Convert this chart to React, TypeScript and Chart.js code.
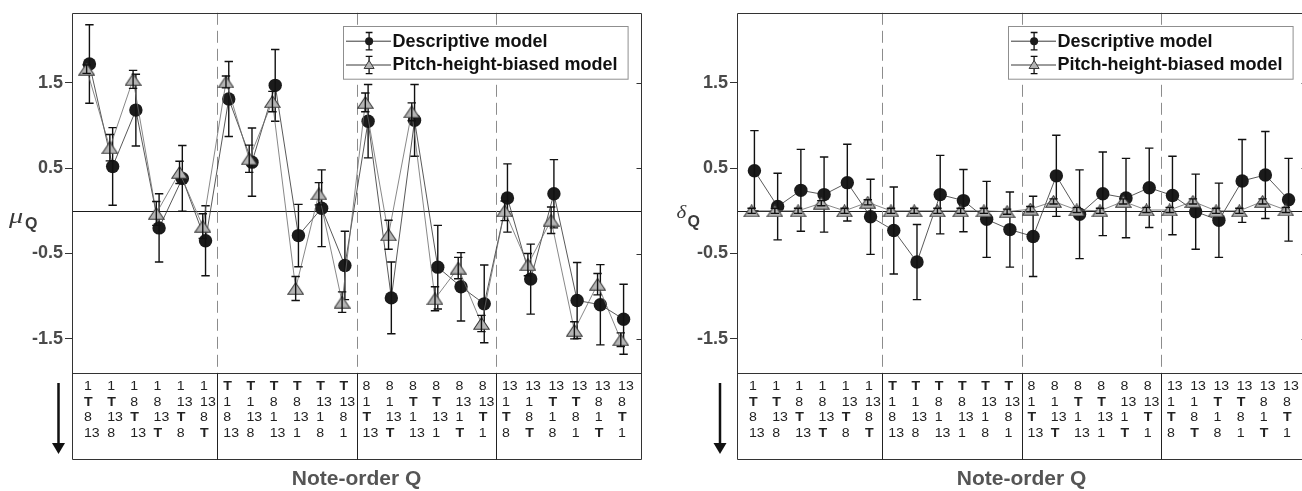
import React, { useEffect, useRef } from "react";
import { Chart, registerables } from "chart.js";
Chart.register(...registerables);

// ---------- data ----------
const notePositions = [1, 2, 3, 4, 5, 6, 7, 8, 9, 10, 11, 12, 13, 14, 15, 16, 17, 18, 19, 20, 21, 22, 23, 24];
const groupBreaks = [6.5, 12.5, 18.5];
const yTickValues = [-1.5, -0.5, 0.5, 1.5];
const seriesLabels = ["Descriptive model", "Pitch-height-biased model"];
const xTitle = "Note-order Q";

const orderRow1 = ["1", "1", "1", "1", "1", "1", "T", "T", "T", "T", "T", "T", "8", "8", "8", "8", "8", "8", "13", "13", "13", "13", "13", "13"];
const orderRow2 = ["T", "T", "8", "8", "13", "13", "1", "1", "8", "8", "13", "13", "1", "1", "T", "T", "13", "13", "1", "1", "T", "T", "8", "8"];
const orderRow3 = ["8", "13", "T", "13", "T", "8", "8", "13", "1", "13", "1", "8", "T", "13", "1", "13", "1", "T", "T", "8", "1", "8", "1", "T"];
const orderRow4 = ["13", "8", "13", "T", "8", "T", "13", "8", "13", "1", "8", "1", "13", "T", "13", "1", "T", "1", "8", "T", "8", "1", "T", "1"];

const muDescriptive = [1.72, 0.52, 1.18, -0.2, 0.38, -0.35, 1.31, 0.57, 1.47, -0.29, 0.03, -0.64, 1.05, -1.02, 1.06, -0.66, -0.89, -1.09, 0.15, -0.8, 0.2, -1.05, -1.1, -1.27];
const muDescriptiveErr = [0.46, 0.455, 0.42, 0.4, 0.385, 0.41, 0.44, 0.4, 0.42, 0.365, 0.45, 0.4, 0.43, 0.42, 0.42, 0.49, 0.4, 0.455, 0.4, 0.41, 0.4, 0.445, 0.47, 0.41];
const muPitch = [1.66, 0.74, 1.54, -0.03, 0.45, -0.18, 1.51, 0.61, 1.28, -0.91, 0.2, -1.07, 1.27, -0.28, 1.16, -1.03, -0.67, -1.32, 0.0, -0.63, -0.11, -1.4, -0.86, -1.51];
const muPitchErr = [0.05, 0.155, 0.105, 0.14, 0.13, 0.145, 0.07, 0.16, 0.12, 0.14, 0.13, 0.12, 0.11, 0.17, 0.105, 0.14, 0.125, 0.095, 0.115, 0.13, 0.155, 0.1, 0.125, 0.08];

const deltaDescriptive = [0.47, 0.05, 0.24, 0.19, 0.33, -0.07, -0.23, -0.6, 0.19, 0.12, -0.1, -0.22, -0.3, 0.41, -0.04, 0.2, 0.15, 0.27, 0.18, -0.01, -0.11, 0.35, 0.42, 0.13];
const deltaDescriptiveErr = [0.47, 0.39, 0.48, 0.44, 0.45, 0.44, 0.51, 0.44, 0.46, 0.365, 0.445, 0.44, 0.47, 0.475, 0.52, 0.49, 0.465, 0.465, 0.46, 0.44, 0.435, 0.485, 0.51, 0.485];
const deltaPitch = [0.0, 0.0, 0.0, 0.09, 0.0, 0.1, 0.0, 0.0, 0.0, 0.0, 0.0, -0.01, 0.02, 0.11, 0.01, 0.0, 0.11, 0.01, 0.01, 0.11, 0.0, 0.0, 0.11, 0.01];
const deltaPitchErr = [0.03, 0.03, 0.03, 0.03, 0.03, 0.03, 0.03, 0.03, 0.03, 0.03, 0.03, 0.03, 0.03, 0.03, 0.03, 0.03, 0.03, 0.03, 0.03, 0.03, 0.03, 0.03, 0.03, 0.03];

// ---------- styling ----------
const SANS = '"Liberation Sans", Arial, Helvetica, sans-serif';
const SERIF = '"Liberation Serif", "Times New Roman", serif';
const CANVAS_W = 665;
const CANVAS_H = 491;

function makeTriangleImage(w: number, h: number) {
  const c = document.createElement("canvas");
  c.width = w;
  c.height = h;
  const g = c.getContext("2d")!;
  g.beginPath();
  g.moveTo(w / 2, 0.8);
  g.lineTo(w - 0.8, h - 0.8);
  g.lineTo(0.8, h - 0.8);
  g.closePath();
  g.fillStyle = "#b4b4b4";
  g.fill();
  g.strokeStyle = "#3a3a3a";
  g.lineWidth = 1.1;
  g.stroke();
  return c;
}

type PanelOpts = {
  desc: number[];
  descErr: number[];
  pitch: number[];
  pitchErr: number[];
  symbol: string;
  symbolFont: string;
  symbolDx: number;
  symbolY: number;
  symbolScaleX: number;
  qDx: number;
  qY: number;
  arrowDx: number;
};

function makeChart(canvas: HTMLCanvasElement, o: PanelOpts) {
  const tri = makeTriangleImage(17, 13);
  const errs = [o.descErr, o.pitchErr];
  const rows = [orderRow1, orderRow2, orderRow3, orderRow4];

  const decor = {
    id: "decor",
    beforeDatasetsDraw(chart: any) {
      const { ctx, chartArea: ca, scales } = chart;
      const xs = scales.x;
      const ys = scales.y;
      ctx.save();
      const y0 = Math.round(ys.getPixelForValue(0)) + 0.5;
      ctx.strokeStyle = "#1a1a1a";
      ctx.lineWidth = 1;
      ctx.beginPath();
      ctx.moveTo(ca.left, y0);
      ctx.lineTo(ca.right, y0);
      ctx.stroke();
      ctx.strokeStyle = "#8c8c8c";
      ctx.setLineDash([12, 6]);
      groupBreaks.forEach((b) => {
        const px = Math.round(xs.getPixelForValue(b)) + 0.5;
        ctx.beginPath();
        ctx.moveTo(px, ca.top);
        ctx.lineTo(px, ca.bottom);
        ctx.stroke();
      });
      ctx.restore();
    },
    afterDatasetDraw(chart: any, args: any) {
      const ds = chart.data.datasets[args.index];
      const e = errs[args.index];
      const ys = chart.scales.y;
      const ctx = chart.ctx;
      ctx.save();
      ctx.strokeStyle = "#111";
      ctx.lineWidth = 1.4;
      args.meta.data.forEach((pt: any, i: number) => {
        const v = ds.data[i].y;
        const x = pt.x;
        const y1 = ys.getPixelForValue(v + e[i]);
        const y2 = ys.getPixelForValue(v - e[i]);
        ctx.beginPath();
        ctx.moveTo(x, y1);
        ctx.lineTo(x, y2);
        ctx.moveTo(x - 4.2, y1);
        ctx.lineTo(x + 4.2, y1);
        ctx.moveTo(x - 4.2, y2);
        ctx.lineTo(x + 4.2, y2);
        ctx.stroke();
      });
      ctx.restore();
    },
    afterDraw(chart: any) {
      const { ctx, chartArea: ca, scales } = chart;
      const xs = scales.x;
      const ys = scales.y;
      const L = Math.round(ca.left) + 0.5;
      const R = Math.round(ca.right) + 0.5;
      const T = Math.round(ca.top) + 0.5;
      const B = Math.round(ca.bottom) + 0.5;
      const TB = B + 86;
      ctx.save();
      // frame + table box
      ctx.strokeStyle = "#333";
      ctx.lineWidth = 1;
      ctx.beginPath();
      ctx.moveTo(L, TB);
      ctx.lineTo(L, T);
      ctx.lineTo(R, T);
      ctx.lineTo(R, TB);
      ctx.lineTo(L, TB);
      ctx.moveTo(L, B);
      ctx.lineTo(R, B);
      ctx.stroke();
      // inward ticks on right
      ctx.beginPath();
      yTickValues.forEach((v) => {
        const py = Math.round(ys.getPixelForValue(v)) + 0.5;
        ctx.moveTo(R - 5, py);
        ctx.lineTo(R, py);
      });
      ctx.stroke();
      // table group separators
      ctx.strokeStyle = "#222";
      ctx.beginPath();
      groupBreaks.forEach((b) => {
        const px = Math.round(xs.getPixelForValue(b)) + 0.5;
        ctx.moveTo(px, B);
        ctx.lineTo(px, TB);
      });
      ctx.stroke();
      // table text
      ctx.fillStyle = "#222";
      ctx.textBaseline = "middle";
      ctx.textAlign = "left";
      const rowY = [14, 29.5, 45, 60.5];
      rows.forEach((row, r) => {
        row.forEach((lab, i) => {
          ctx.save();
          ctx.translate(xs.getPixelForValue(notePositions[i]) - 5.5, ca.bottom + rowY[r]);
          ctx.scale(1.18, 1);
          ctx.font = (lab === "T" ? "bold " : "") + "12px " + SANS;
          ctx.fillText(lab, 0, 0);
          ctx.restore();
        });
      });
      // arrow
      const ax = ca.left - o.arrowDx;
      ctx.fillStyle = "#111";
      ctx.fillRect(ax - 1.25, ca.bottom + 10, 2.5, 62);
      ctx.beginPath();
      ctx.moveTo(ax - 6.5, ca.bottom + 70);
      ctx.lineTo(ax + 6.5, ca.bottom + 70);
      ctx.lineTo(ax, ca.bottom + 81);
      ctx.closePath();
      ctx.fill();
      // y label
      ctx.fillStyle = "#3a3a3a";
      ctx.textBaseline = "alphabetic";
      ctx.save();
      ctx.translate(ca.left - o.symbolDx, o.symbolY);
      ctx.scale(o.symbolScaleX, 1);
      ctx.font = o.symbolFont;
      ctx.fillText(o.symbol, 0, 0);
      ctx.restore();
      ctx.font = "bold 16px " + SANS;
      ctx.fillText("Q", ca.left - o.qDx, o.qY);
      // legend
      const bw = 284.6;
      const bh = 52.7;
      const bx = Math.round(ca.right - 13.7 - bw) + 0.5;
      const by = Math.round(ca.top + 13.3) + 0.5;
      ctx.fillStyle = "#fff";
      ctx.fillRect(bx, by, bw, bh);
      ctx.strokeStyle = "#8f8f8f";
      ctx.lineWidth = 1;
      ctx.strokeRect(bx, by, bw, bh);
      const rowsY = [by + 14.7, by + 38.5];
      const mx = bx + 25.6;
      rowsY.forEach((ry, k) => {
        ctx.strokeStyle = "#222";
        ctx.lineWidth = 0.9;
        ctx.beginPath();
        ctx.moveTo(bx + 2.5, ry);
        ctx.lineTo(bx + 47.5, ry);
        ctx.stroke();
        ctx.lineWidth = 1.3;
        ctx.strokeStyle = "#111";
        ctx.beginPath();
        ctx.moveTo(mx, ry - 8.7);
        ctx.lineTo(mx, ry + 8.7);
        ctx.moveTo(mx - 3.4, ry - 8.7);
        ctx.lineTo(mx + 3.4, ry - 8.7);
        ctx.moveTo(mx - 3.4, ry + 8.7);
        ctx.lineTo(mx + 3.4, ry + 8.7);
        ctx.stroke();
        if (k === 0) {
          ctx.fillStyle = "#1b1b1b";
          ctx.beginPath();
          ctx.arc(mx, ry, 4, 0, Math.PI * 2);
          ctx.fill();
        } else {
          ctx.beginPath();
          ctx.moveTo(mx, ry - 4.5);
          ctx.lineTo(mx + 5, ry + 3.5);
          ctx.lineTo(mx - 5, ry + 3.5);
          ctx.closePath();
          ctx.fillStyle = "#b4b4b4";
          ctx.fill();
          ctx.strokeStyle = "#3a3a3a";
          ctx.lineWidth = 1;
          ctx.stroke();
        }
        ctx.fillStyle = "#111";
        ctx.font = "bold 18px " + SANS;
        ctx.textBaseline = "middle";
        ctx.fillText(seriesLabels[k], bx + 49, ry + 0.5);
      });
      ctx.restore();
    },
  };

  return new Chart(canvas, {
    type: "line",
    data: {
      datasets: [
        {
          label: seriesLabels[0],
          data: notePositions.map((x, i) => ({ x, y: o.desc[i] })),
          borderColor: "#2e2e2e",
          borderWidth: 0.8,
          pointStyle: "circle",
          pointRadius: 6.7,
          pointBackgroundColor: "#1b1b1b",
          pointBorderColor: "#1b1b1b",
          pointBorderWidth: 0,
          tension: 0,
          order: 2,
        },
        {
          label: seriesLabels[1],
          data: notePositions.map((x, i) => ({ x: x - 0.12, y: o.pitch[i] })),
          borderColor: "#6a6a6a",
          borderWidth: 0.8,
          pointStyle: tri as any,
          pointRadius: 8,
          tension: 0,
          order: 1,
        },
      ],
    },
    options: {
      animation: false,
      responsive: false,
      devicePixelRatio: 1,
      layout: { padding: { left: 0, right: 24, top: 10, bottom: 0 } },
      plugins: { legend: { display: false }, tooltip: { enabled: false } },
      scales: {
        x: {
          type: "linear",
          min: 0.25,
          max: 24.75,
          ticks: { display: false },
          grid: { display: false, drawTicks: false },
          border: { display: false },
          title: {
            display: true,
            text: xTitle,
            color: "#555",
            font: { family: SANS, size: 21, weight: "bold", lineHeight: 1 },
            padding: { top: 0, bottom: 1 },
          },
          afterFit: (s: any) => {
            s.height = 118;
          },
        },
        y: {
          type: "linear",
          min: -1.9,
          max: 2.32,
          afterBuildTicks: (s: any) => {
            s.ticks = yTickValues.map((v) => ({ value: v }));
          },
          ticks: {
            autoSkip: false,
            padding: 2,
            color: "#4a4a4a",
            font: { family: SANS, size: 18, weight: "bold" },
            callback: (v: any) => Number(v).toFixed(1),
          },
          grid: { drawOnChartArea: false, drawTicks: true, tickLength: 7, color: "#333" },
          border: { display: false },
          afterFit: (s: any) => {
            s.width = 72;
          },
        },
      },
    },
    plugins: [decor],
  } as any);
}

export default function App() {
  const leftRef = useRef<HTMLCanvasElement>(null);
  const rightRef = useRef<HTMLCanvasElement>(null);

  useEffect(() => {
    const a = makeChart(leftRef.current!, {
      desc: muDescriptive,
      descErr: muDescriptiveErr,
      pitch: muPitch,
      pitchErr: muPitchErr,
      symbol: "μ",
      symbolFont: "italic 21px " + SERIF,
      symbolDx: 63,
      symbolY: 223,
      symbolScaleX: 1.35,
      qDx: 47,
      qY: 229,
      arrowDx: 13.5,
    });
    const b = makeChart(rightRef.current!, {
      desc: deltaDescriptive,
      descErr: deltaDescriptiveErr,
      pitch: deltaPitch,
      pitchErr: deltaPitchErr,
      symbol: "δ",
      symbolFont: "italic 19px " + SERIF,
      symbolDx: 60.5,
      symbolY: 218,
      symbolScaleX: 1.1,
      qDx: 49.5,
      qY: 226.5,
      arrowDx: 17,
    });
    return () => {
      a.destroy();
      b.destroy();
    };
  }, []);

  return (
    <div
      style={{
        position: "fixed",
        left: 0,
        top: 0,
        width: 1302,
        height: 491,
        overflow: "hidden",
        background: "#fff",
      }}
    >
      <canvas
        ref={leftRef}
        width={CANVAS_W}
        height={CANVAS_H}
        style={{ position: "absolute", left: 0, top: 0, width: CANVAS_W, height: CANVAS_H }}
      />
      <canvas
        ref={rightRef}
        width={CANVAS_W}
        height={CANVAS_H}
        style={{ position: "absolute", left: 665, top: 0, width: CANVAS_W, height: CANVAS_H }}
      />
    </div>
  );
}
